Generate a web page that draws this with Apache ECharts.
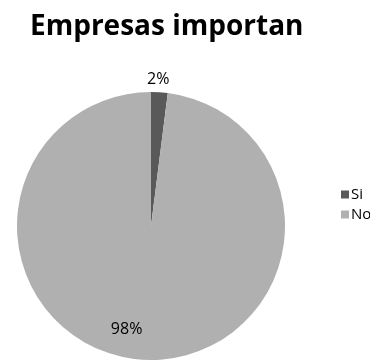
<!DOCTYPE html>
<html>
<head>
<meta charset="utf-8">
<script src="https://cdn.jsdelivr.net/npm/echarts@6/dist/echarts.min.js"></script>
<style>
    html, body { margin: 0; padding: 0; background: #fff; }
    #main { width: 370px; height: 360px; }
</style>
</head>
<body>
<div id="main"></div>
<script>
// datos del gráfico
var categorias = ['Si', 'No'];
var valores = [2, 98];
var colores = ['#595959', '#b0b0b0'];

var myChart = echarts.init(document.getElementById('main'));

var datos = categorias.map(function (nombre, i) {
    return {
        name: nombre,
        value: valores[i],
        itemStyle: { color: colores[i] },
        label: { position: i === 0 ? 'outside' : 'inside' }
    };
});

var option = {
    backgroundColor: '#fff',
    title: {
        text: 'Empresas importan',
        left: 25,
        top: 8,
        textStyle: {
            fontFamily: 'Open Sans',
            fontWeight: 'bold',
            fontSize: 28,
            color: '#000'
        }
    },
    legend: {
        orient: 'vertical',
        left: 336,
        top: 182,
        itemWidth: 8,
        itemHeight: 8,
        itemGap: 5,
        icon: 'rect',
        data: categorias,
        textStyle: {
            fontFamily: 'Open Sans',
            fontSize: 15,
            color: '#000',
            padding: [0, 0, 0, -3]
        }
    },
    series: [{
        type: 'pie',
        center: [151, 226],
        radius: 134,
        startAngle: 90,
        clockwise: true,
        animation: false,
        silent: true,
        label: {
            show: true,
            formatter: '{d}%',
            fontFamily: 'Open Sans',
            fontSize: 16,
            color: '#000'
        },
        labelLine: { show: false, length: 13, length2: 0 },
        labelLayout: function (params) {
            if (params.dataIndex === 0) {
                return { align: 'center', dx: -7, dy: 0 };
            }
            return { dx: -20, dy: 34 };
        },
        data: datos
    }]
};

myChart.setOption(option);
</script>
</body>
</html>
